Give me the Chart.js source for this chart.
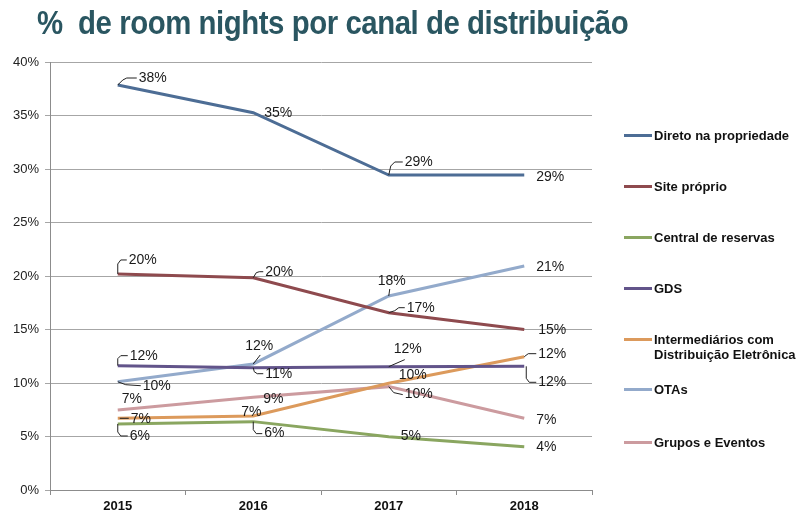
<!DOCTYPE html>
<html>
<head>
<meta charset="utf-8">
<script src="https://cdn.jsdelivr.net/npm/chart.js@4/dist/chart.umd.min.js"></script>
<style>
  body { margin:0; background:#fff; }
  #wrap { position:relative; width:808px; height:519px; }
  #title { position:absolute; left:37px; top:4px; font-family:"Liberation Sans",Arial,sans-serif;
           font-weight:bold; font-size:33px; color:#2a5661; white-space:pre; letter-spacing:-0.5px;
           transform:scaleX(0.89); transform-origin:0 0; }
  #legend { position:absolute; left:0; top:0; }
  .lg { position:absolute; font-family:"Liberation Sans",Arial,sans-serif; font-weight:bold; font-size:13px; color:#111;
        line-height:15px; white-space:nowrap; }
  .lg i { position:absolute; left:-30px; top:6px; width:28px; height:3px; }
</style>
</head>
<body>
<div id="wrap">
  <canvas id="chart" width="808" height="519"></canvas>
  <div id="title">%  de room nights por canal de distribuição</div>
  <div id="legend"></div>
</div>
<script>
var years = ['2015', '2016', '2017', '2018'];
var seriesNames = ['Direto na propriedade', 'Site próprio', 'Central de reservas', 'GDS',
  'Intermediários com\nDistribuição Eletrônica', 'OTAs', 'Grupos e Eventos'];
var direto = [37.85, 35.26, 29.44, 29.44];
var siteProprio = [20.19, 19.84, 16.57, 15.0];
var central = [6.17, 6.39, 4.98, 4.05];
var gds = [11.62, 11.43, 11.53, 11.56];
var intermediarios = [6.70, 6.92, 9.97, 12.46];
var otas = [10.12, 11.78, 18.13, 20.93];
var grupos = [7.48, 8.66, 9.66, 6.70];
var yTicks = [0, 5, 10, 15, 20, 25, 30, 35, 40];

var colors = ['#4d6d95', '#8e4a4e', '#8aa660', '#62548a', '#dc9a5c', '#93aacb', '#cc9b9f'];
var allData = [direto, siteProprio, central, gds, intermediarios, otas, grupos];

// label placement: [dx to text left, dy to text middle, leader polyline]
var labelPos = [
  [[21,-7,[[0,0],[5,-5],[9,-7],[19,-7]]], [11,0,null], [16,-13,[[0,0],[2,-9],[6,-13],[14,-13]]], [12,2,null]],
  [[11,-14,[[0,0],[0,-10],[3,-14],[9,-14]]], [12,-6,[[0,0],[3,-5],[6,-6],[10,-6]]], [18,-5,[[0,0],[6,-2],[10,-5],[16,-5]]], [14,1,null]],
  [[12,12,[[0,0],[0,8],[3,12],[10,12]]], [11,12,[[0,0],[0,8],[3,12],[9,12]]], [12,-1,null], [12,0,null]],
  [[12,-10,[[0,0],[0,-7],[3,-10],[10,-10]]], [12,6,[[0,0],[1,4],[4,6],[10,6]]], [5,-17,[[0,0],[16,-7]]], [14,16,[[2,0],[2,12],[5,16],[12,16]]]],
  [[13,1,[[2,0],[11,0]]], [-12,-4,null], [10,-8,null], [14,-3,[[0,0],[4,-3],[12,-3]]]],
  [[25,4,[[0,0],[8,3],[23,4]]], [-8,-18,[[0,0],[7,-9]]], [-11,-15,[[0,0],[1,-7]]], [12,1,null]],
  [[4,-11,null], [10,2,null], [16,8,[[0,0],[5,6],[14,8]]], [12,2,null]]
];

var datasets = allData.map(function(d, i){
  return {
    label: seriesNames[i],
    data: d,
    borderColor: colors[i],
    backgroundColor: colors[i],
    borderWidth: 3,
    pointRadius: 0,
    tension: 0
  };
});

var valueLabels = {
  id: 'valueLabels',
  afterDatasetsDraw: function(chart){
    var ctx = chart.ctx;
    ctx.save();
    ctx.font = '14px "Liberation Sans", Arial, sans-serif';
    ctx.fillStyle = '#1a1a1a';
    ctx.textBaseline = 'middle';
    ctx.textAlign = 'left';
    ctx.strokeStyle = '#222';
    ctx.lineWidth = 1;
    chart.data.datasets.forEach(function(ds, i){
      var meta = chart.getDatasetMeta(i);
      meta.data.forEach(function(pt, j){
        var pos = labelPos[i][j];
        if (pos[2]) {
          ctx.beginPath();
          pos[2].forEach(function(p, k){
            if (k === 0) ctx.moveTo(pt.x + p[0], pt.y + p[1]);
            else ctx.lineTo(pt.x + p[0], pt.y + p[1]);
          });
          ctx.stroke();
        }
        ctx.fillText(Math.round(ds.data[j]) + '%', pt.x + pos[0], pt.y + pos[1]);
      });
    });
    ctx.restore();
  }
};

var chart = new Chart(document.getElementById('chart'), {
  type: 'line',
  data: { labels: years, datasets: datasets },
  plugins: [valueLabels],
  options: {
    responsive: false,
    animation: false,
    layout: { padding: { top: 62, right: 216, left: 0, bottom: 0 } },
    plugins: { legend: { display: false }, tooltip: { enabled: false } },
    scales: {
      x: {
        offset: true,
        afterFit: function(s){ s.height = 29; },
        grid: { drawOnChartArea: false, drawTicks: true, tickLength: 5, color: '#8c8c8c', offset: true },
        border: { color: '#8c8c8c', width: 1 },
        ticks: { color: '#111', padding: 4, font: { family: '"Liberation Sans", Arial', size: 13, weight: 'bold' } }
      },
      y: {
        min: 0, max: 40,
        afterFit: function(s){ s.width = 50; },
        afterBuildTicks: function(s){ s.ticks = yTicks.map(function(v){ return { value: v }; }); },
        grid: { color: '#a6a6a6', tickLength: 5 },
        border: { color: '#8c8c8c', width: 1 },
        ticks: { color: '#222', padding: 6, callback: function(v){ return v + '%'; },
                 font: { family: '"Liberation Sans", Arial', size: 13 } }
      }
    }
  }
});

// legend
var legendY = [135, 186, 237, 288, 339, 389, 442];
var lg = document.getElementById('legend');
seriesNames.forEach(function(name, i){
  var el = document.createElement('div');
  el.className = 'lg';
  el.style.left = '654px';
  el.style.top = (legendY[i] - 7) + 'px';
  el.innerHTML = '<i style="background:' + colors[i] + '"></i>' + name.replace('\n', '<br>');
  lg.appendChild(el);
});
</script>
</body>
</html>
